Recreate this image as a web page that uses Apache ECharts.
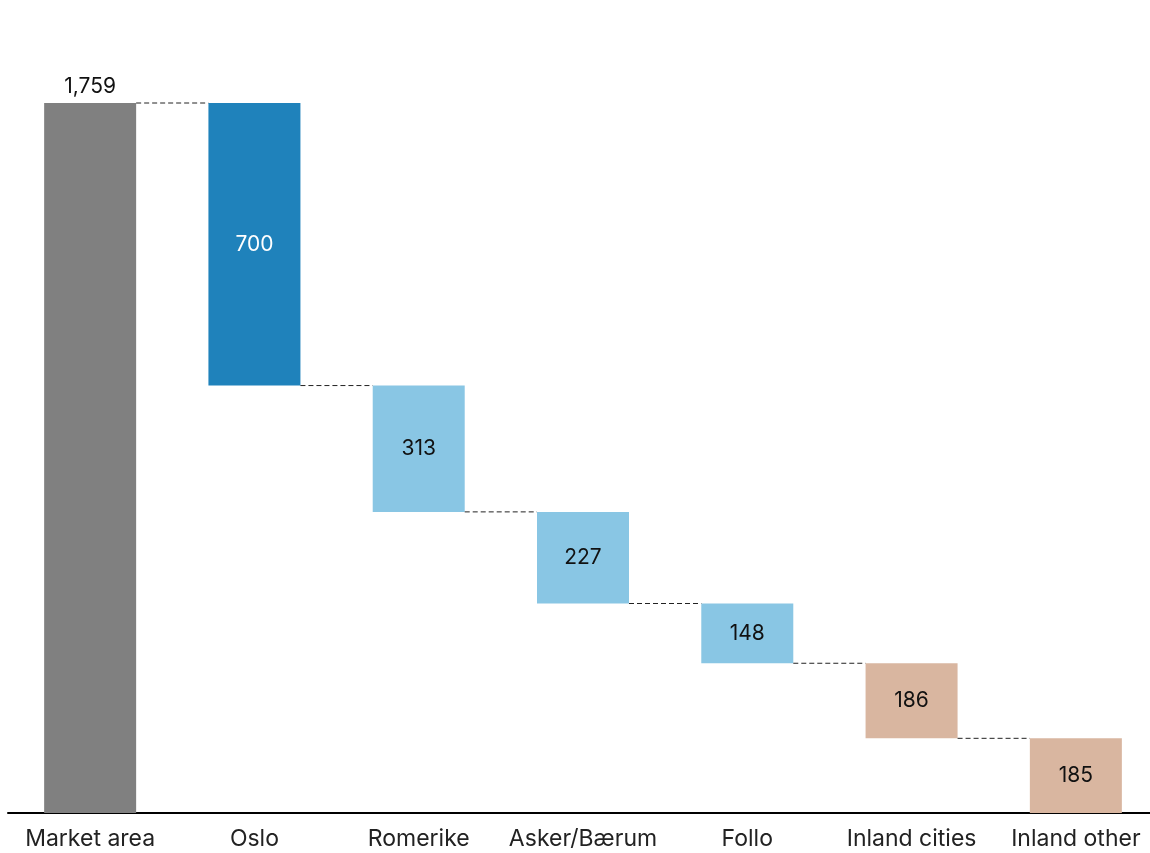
<!DOCTYPE html>
<html>
<head>
<meta charset="UTF-8">
<title>Market area waterfall</title>
<script type="text/javascript" src="https://cdn.jsdelivr.net/npm/echarts@6/dist/echarts.min.js"></script>
<style>
	html, body { margin: 0; padding: 0; background: #fff; overflow: hidden; }
</style>
</head>
<body>
	<!-- a little wider than the window: the last category runs past the right edge -->
	<div id="box" style="width: 1158px; height: 853px;"></div>

	<script type="text/javascript">
		// data
		var categories = ['Market area', 'Oslo', 'Romerike', 'Asker/Bærum', 'Follo', 'Inland cities', 'Inland other'];
		var values = [1759, 700, 313, 227, 148, 186, 185];
		var barColors = ['#808080', '#1f82bb', '#89c6e4', '#89c6e4', '#89c6e4', '#d9b6a0', '#d9b6a0'];
		var labelColors = ['#111', '#fff', '#111', '#111', '#111', '#111', '#111'];

		// invisible base for the floating bars
		var bases = [0];
		var level = values[0];
		for (var i = 1; i < values.length; i++) {
			level = level - values[i];
			bases.push(level);
		}

		// connector levels: top of the next bar
		var links = [];
		for (var i = 0; i < values.length - 1; i++) {
			links.push([i, bases[i + 1] + values[i + 1]]);
		}

		var barWidth = 92;
		var font = 'Inter, "Noto Sans", sans-serif';

		var myChart = echarts.init(document.getElementById('box'));
		myChart.setOption({
			animation: false,
			grid: { left: 8, top: 103, right: 0, bottom: 40, containLabel: false },
			xAxis: {
				type: 'category',
				data: categories,
				axisLine: { show: true, lineStyle: { color: '#000', width: 2 } },
				axisTick: { show: false },
				axisLabel: { color: '#222', fontSize: 23, fontFamily: font, margin: 15, interval: 0 }
			},
			yAxis: {
				type: 'value',
				min: 0,
				max: values[0],
				show: false,
				splitLine: { show: false }
			},
			series: [
				{
					type: 'bar',
					stack: 'wf',
					barWidth: barWidth,
					itemStyle: { color: 'transparent' },
					silent: true,
					data: bases
				},
				{
					type: 'bar',
					stack: 'wf',
					barWidth: barWidth,
					data: values.map(function (v, i) {
						return {
							value: v,
							itemStyle: { color: barColors[i] },
							label: {
								show: true,
								position: i === 0 ? 'top' : 'inside',
								distance: 6,
								color: labelColors[i],
								fontSize: 21,
								fontFamily: font,
								formatter: function (p) { return p.value.toLocaleString('en-US'); }
							}
						};
					})
				},
				{
					type: 'custom',
					silent: true,
					z: 5,
					data: links,
					renderItem: function (params, api) {
						var a = api.coord([api.value(0), api.value(1)]);
						var b = api.coord([api.value(0) + 1, api.value(1)]);
						return {
							type: 'line',
							shape: { x1: a[0] + barWidth / 2, y1: a[1], x2: b[0] - barWidth / 2, y2: b[1] },
							style: { stroke: '#222', lineWidth: 1, lineDash: [5, 3] }
						};
					}
				}
			]
		});
	</script>
</body>
</html>
